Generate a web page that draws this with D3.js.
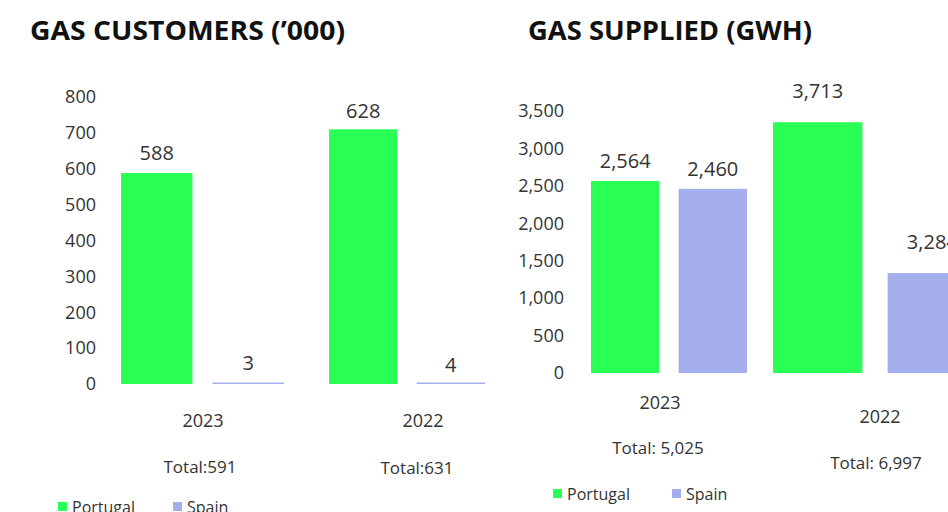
<!DOCTYPE html>
<html>
<head>
<meta charset="utf-8">
<script src="https://cdn.jsdelivr.net/npm/d3@7"></script>
<style>
  body { margin: 0; background: #fff; }
  svg { display: block; font-family: "Open Sans", sans-serif; }
</style>
</head>
<body>
<script>
// data
const years = ['2023', '2022'];
const series = ['Portugal', 'Spain'];
const colors = ['#2aff55', '#a4aeec'];

// customers ('000): printed labels and bar heights as drawn on the axis
const customersPortugal = [588, 628];
const customersSpain = [3, 4];
const customersPortugalBars = [588, 710];
const customersSpainBars = [3, 4];
const customersTotals = ['Total:591', 'Total:631'];
const customersTicks = [0, 100, 200, 300, 400, 500, 600, 700, 800];

// gas supplied (GWh)
const suppliedPortugal = [2564, 3713];
const suppliedSpain = [2460, 3284];
const suppliedPortugalBars = [2564, 3350];
const suppliedSpainBars = [2460, 1335];
const suppliedTotals = ['Total: 5,025', 'Total: 6,997'];
const suppliedTicks = [0, 500, 1000, 1500, 2000, 2500, 3000, 3500];

const width = 948, height = 512;
const svg = d3.select('body').append('svg')
    .attr('width', width)
    .attr('height', height);

const fmt = d3.format(',');

function drawPanel(opts) {
    const g = svg.append('g');
    // title
    g.append('text')
        .attr('x', opts.titleX)
        .attr('y', 40)
        .attr('font-size', 26)
        .attr('font-weight', 700)
        .attr('fill', '#111')
        .attr('textLength', opts.titleWidth)
        .attr('lengthAdjust', 'spacingAndGlyphs')
        .text(opts.title);

    const y = d3.scaleLinear().domain([0, opts.yMax]).range(opts.yRange);
    const axis = d3.axisLeft(y).tickValues(opts.ticks).tickFormat(fmt).tickSize(0).tickPadding(0);
    const ax = g.append('g')
        .attr('transform', `translate(${opts.axisX},0)`)
        .call(axis);
    ax.select('.domain').remove();
    ax.selectAll('text')
        .attr('font-family', '"Open Sans", sans-serif')
        .attr('font-size', 18)
        .attr('fill', '#333');

    // every year group sits in its own band (the slide pastes them unevenly)
    years.forEach((year, i) => {
        const grp = opts.groups[i];
        const x = d3.scaleBand().domain(series).range(grp.band).paddingInner(0.22);
        const rows = series.map((s, k) => ({
            s, k,
            bar: opts.bars[k][i],
            label: opts.labels[k][i]
        }));
        g.selectAll(null)
            .data(rows)
            .enter()
            .append('rect')
            .attr('x', d => x(d.s))
            .attr('width', x.bandwidth())
            .attr('y', d => Math.min(y(d.bar), y(0) - 1.5))
            .attr('height', d => Math.max(y(0) - y(d.bar), 1.5))
            .attr('fill', d => colors[d.k]);
        g.selectAll(null)
            .data(rows)
            .enter()
            .append('text')
            .attr('x', d => x(d.s) + x.bandwidth() / 2)
            .attr('y', d => Math.min(y(d.bar), y(0) - 1.5) - grp.labelGap)
            .attr('text-anchor', 'middle')
            .attr('font-size', 20)
            .attr('fill', '#333')
            .text(d => fmt(d.label));
        // year and total under the group
        g.append('text')
            .attr('x', grp.yearX)
            .attr('y', grp.yearY)
            .attr('text-anchor', 'middle')
            .attr('font-size', 18)
            .attr('fill', '#333')
            .text(year);
        g.append('text')
            .attr('x', grp.totalX)
            .attr('y', grp.totalY)
            .attr('text-anchor', 'middle')
            .attr('font-size', 17)
            .attr('fill', '#333')
            .text(opts.totals[i]);
    });

    // legend
    const leg = g.selectAll(null)
        .data(series)
        .enter()
        .append('g')
        .attr('transform', (d, k) => `translate(${opts.legendX[k]},${opts.legendY})`);
    leg.append('rect')
        .attr('x', 0)
        .attr('y', -5)
        .attr('width', 9)
        .attr('height', 9)
        .attr('fill', (d, k) => colors[k]);
    leg.append('text')
        .attr('x', 14)
        .attr('y', 6)
        .attr('font-size', 16)
        .attr('fill', '#333')
        .text(d => d);
}

drawPanel({
    title: 'GAS CUSTOMERS (\u2019000)',
    titleX: 30,
    titleWidth: 315,
    yMax: 800,
    yRange: [384, 97],
    ticks: customersTicks,
    axisX: 96,
    bars: [customersPortugalBars, customersSpainBars],
    labels: [customersPortugal, customersSpain],
    totals: customersTotals,
    groups: [
        {band: [121, 284], labelGap: 13, yearX: 203, yearY: 427, totalX: 200, totalY: 473},
        {band: [329, 485], labelGap: 11, yearX: 423, yearY: 427, totalX: 417, totalY: 474}
    ],
    legendX: [58, 173],
    legendY: 507
});

drawPanel({
    title: 'GAS SUPPLIED (GWH)',
    titleX: 528,
    titleWidth: 284,
    yMax: 3500,
    yRange: [373, 111],
    ticks: suppliedTicks,
    axisX: 564,
    bars: [suppliedPortugalBars, suppliedSpainBars],
    labels: [suppliedPortugal, suppliedSpain],
    totals: suppliedTotals,
    groups: [
        {band: [591, 747], labelGap: 13, yearX: 660, yearY: 409, totalX: 658, totalY: 454},
        {band: [773, 977], labelGap: 24, yearX: 880, yearY: 423, totalX: 876, totalY: 469}
    ],
    legendX: [553, 672],
    legendY: 494
});
</script>
</body>
</html>
